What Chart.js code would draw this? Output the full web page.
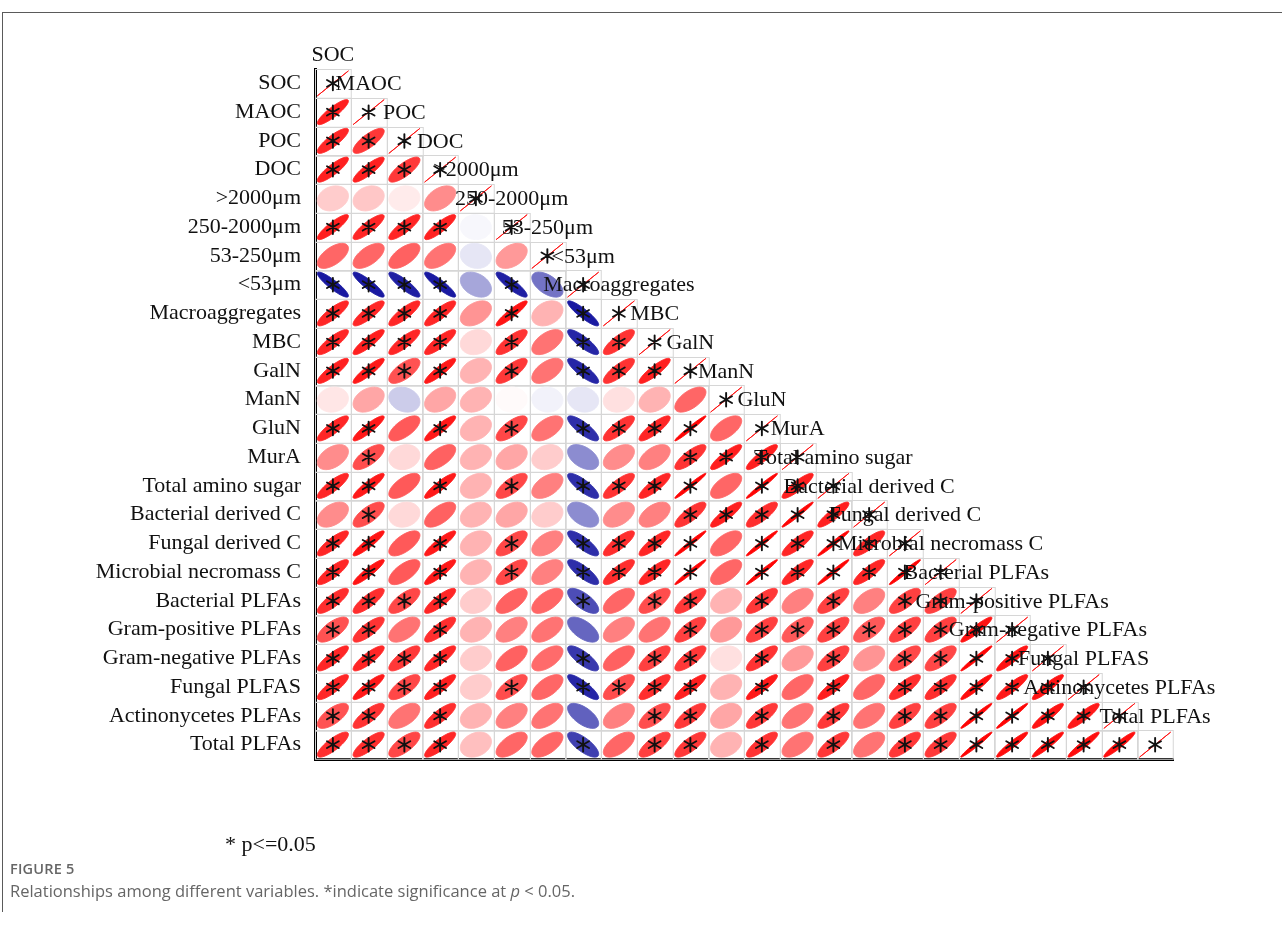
<!DOCTYPE html>
<html>
<head>
<meta charset="utf-8">
<title>Relationships among different variables</title>
<script src="https://cdn.jsdelivr.net/npm/chart.js@4.4.1/dist/chart.umd.min.js"></script>
<style>
  html, body { margin: 0; padding: 0; background: #fff; }
  #wrap { position: relative; width: 1282px; height: 943px; overflow: hidden; }
  #corr { position: absolute; left: 0; top: 0; }
  .frame-top { position: absolute; left: 2px; top: 12px; width: 1280px; border-top: 1.5px solid #5a5a5a; }
  .frame-left { position: absolute; left: 2px; top: 12px; height: 900px; border-left: 1.5px solid #5a5a5a; }
  .sig-note { position: absolute; left: 225px; top: 831px; font: 22px "Liberation Serif", serif; color: #111; white-space: nowrap; }
  .fig-no { position: absolute; left: 10px; top: 859px; font: 600 14.5px "Open Sans", sans-serif; color: #666; letter-spacing: 0.2px; }
  .fig-cap { position: absolute; left: 10px; top: 879px; font: 16.5px "Open Sans", sans-serif; color: #666; white-space: nowrap; }
</style>
</head>
<body>
<div id="wrap">
  <canvas id="corr" width="1282" height="943"></canvas>
  <div class="frame-top"></div>
  <div class="frame-left"></div>
  <div class="sig-note">* p&lt;=0.05</div>
  <div class="fig-no">FIGURE 5</div>
  <div class="fig-cap">Relationships among different variables. *indicate significance at <i>p</i> &lt; 0.05.</div>
</div>
<script>
// Variables, in matrix order (rows top to bottom, columns left to right)
const variables = [
  'SOC', 'MAOC', 'POC', 'DOC', '>2000\u03bcm', '250-2000\u03bcm', '53-250\u03bcm', '<53\u03bcm',
  'Macroaggregates', 'MBC', 'GalN', 'ManN', 'GluN', 'MurA', 'Total amino sugar',
  'Bacterial derived C', 'Fungal derived C', 'Microbial necromass C', 'Bacterial PLFAs',
  'Gram-positive PLFAs', 'Gram-negative PLFAs', 'Fungal PLFAS', 'Actinonycetes PLFAs', 'Total PLFAs'
];

// Lower triangle: correlation of each row variable with the variables before it
const rMAOC   = [0.88];
const rPOC    = [0.85, 0.78];
const rDOC    = [0.87, 0.87, 0.78];
const rGt2000 = [0.20, 0.22, 0.08, 0.45];
const r250    = [0.88, 0.85, 0.85, 0.87, -0.03];
const r53     = [0.60, 0.60, 0.62, 0.55, -0.10, 0.40];
const rLt53   = [-0.90, -0.90, -0.88, -0.90, -0.35, -0.88, -0.55];
const rMacro  = [0.85, 0.85, 0.85, 0.85, 0.42, 0.92, 0.30, -0.90];
const rMBC    = [0.85, 0.88, 0.85, 0.85, 0.15, 0.80, 0.55, -0.85, 0.80];
const rGalN   = [0.87, 0.90, 0.68, 0.90, 0.30, 0.78, 0.55, -0.85, 0.80, 0.88];
const rManN   = [0.10, 0.35, -0.20, 0.35, 0.30, 0.02, -0.05, -0.10, 0.12, 0.30, 0.60];
const rGluN   = [0.85, 0.90, 0.65, 0.90, 0.30, 0.72, 0.55, -0.82, 0.80, 0.85, 0.98, 0.60];
const rMurA   = [0.45, 0.70, 0.15, 0.62, 0.30, 0.35, 0.20, -0.45, 0.45, 0.50, 0.80, 0.88, 0.88];
const rTAS    = [0.85, 0.90, 0.65, 0.90, 0.30, 0.72, 0.50, -0.82, 0.80, 0.85, 0.98, 0.60, 0.98, 0.88];
const rBacC   = [0.45, 0.70, 0.15, 0.62, 0.30, 0.35, 0.20, -0.45, 0.45, 0.50, 0.80, 0.88, 0.82, 0.98, 0.88];
const rFunC   = [0.85, 0.92, 0.65, 0.90, 0.30, 0.72, 0.50, -0.82, 0.82, 0.85, 0.98, 0.60, 0.98, 0.85, 0.98, 0.85];
const rMNC    = [0.85, 0.92, 0.65, 0.90, 0.30, 0.72, 0.50, -0.82, 0.82, 0.85, 0.98, 0.60, 0.98, 0.85, 0.98, 0.85, 0.98];
const rBacP   = [0.82, 0.82, 0.72, 0.85, 0.20, 0.62, 0.60, -0.70, 0.60, 0.70, 0.78, 0.30, 0.78, 0.50, 0.75, 0.50, 0.75, 0.75];
const rGpos   = [0.68, 0.80, 0.55, 0.82, 0.30, 0.50, 0.55, -0.60, 0.50, 0.55, 0.75, 0.40, 0.75, 0.65, 0.75, 0.65, 0.75, 0.75, 0.93];
const rGneg   = [0.85, 0.85, 0.78, 0.85, 0.20, 0.62, 0.58, -0.78, 0.62, 0.75, 0.78, 0.12, 0.80, 0.40, 0.75, 0.42, 0.72, 0.72, 0.98, 0.92];
const rFunP   = [0.85, 0.90, 0.72, 0.88, 0.20, 0.70, 0.60, -0.85, 0.70, 0.82, 0.88, 0.30, 0.90, 0.60, 0.88, 0.60, 0.82, 0.82, 0.95, 0.90, 0.92];
const rActP   = [0.68, 0.80, 0.55, 0.82, 0.30, 0.50, 0.55, -0.62, 0.50, 0.70, 0.78, 0.35, 0.78, 0.55, 0.78, 0.55, 0.75, 0.75, 0.98, 0.98, 0.92, 0.90];
const rTotP   = [0.82, 0.82, 0.72, 0.85, 0.25, 0.60, 0.60, -0.75, 0.60, 0.75, 0.78, 0.30, 0.80, 0.55, 0.78, 0.55, 0.78, 0.78, 0.98, 0.95, 0.95, 0.95, 0.95];

// Significance flags (1 = p <= 0.05), same layout as above
const sMAOC   = [1];
const sPOC    = [1, 1];
const sDOC    = [1, 1, 1];
const sGt2000 = [0, 0, 0, 0];
const s250    = [1, 1, 1, 1, 0];
const s53     = [0, 0, 0, 0, 0, 0];
const sLt53   = [1, 1, 1, 1, 0, 1, 0];
const sMacro  = [1, 1, 1, 1, 0, 1, 0, 1];
const sMBC    = [1, 1, 1, 1, 0, 1, 0, 1, 1];
const sGalN   = [1, 1, 1, 1, 0, 1, 0, 1, 1, 1];
const sManN   = [0, 0, 0, 0, 0, 0, 0, 0, 0, 0, 0];
const sGluN   = [1, 1, 0, 1, 0, 1, 0, 1, 1, 1, 1, 0];
const sMurA   = [0, 1, 0, 0, 0, 0, 0, 0, 0, 0, 1, 1, 1];
const sTAS    = [1, 1, 0, 1, 0, 1, 0, 1, 1, 1, 1, 0, 1, 1];
const sBacC   = [0, 1, 0, 0, 0, 0, 0, 0, 0, 0, 1, 1, 1, 1, 1];
const sFunC   = [1, 1, 0, 1, 0, 1, 0, 1, 1, 1, 1, 0, 1, 1, 1, 1];
const sMNC    = [1, 1, 0, 1, 0, 1, 0, 1, 1, 1, 1, 0, 1, 1, 1, 1, 1];
const sBacP   = [1, 1, 1, 1, 0, 0, 0, 1, 0, 1, 1, 0, 1, 0, 1, 0, 1, 1];
const sGpos   = [1, 1, 0, 1, 0, 0, 0, 0, 0, 0, 1, 0, 1, 1, 1, 1, 1, 1, 1];
const sGneg   = [1, 1, 1, 1, 0, 0, 0, 1, 0, 1, 1, 0, 1, 0, 1, 0, 1, 1, 1, 1];
const sFunP   = [1, 1, 1, 1, 0, 1, 0, 1, 1, 1, 1, 0, 1, 0, 1, 0, 1, 1, 1, 1, 1];
const sActP   = [1, 1, 0, 1, 0, 0, 0, 0, 0, 1, 1, 0, 1, 0, 1, 0, 1, 1, 1, 1, 1, 1];
const sTotP   = [1, 1, 1, 1, 0, 0, 0, 1, 0, 1, 1, 0, 1, 0, 1, 0, 1, 1, 1, 1, 1, 1, 1];

const corrRows = [[], rMAOC, rPOC, rDOC, rGt2000, r250, r53, rLt53, rMacro, rMBC, rGalN, rManN,
  rGluN, rMurA, rTAS, rBacC, rFunC, rMNC, rBacP, rGpos, rGneg, rFunP, rActP, rTotP];
const sigRows = [[], sMAOC, sPOC, sDOC, sGt2000, s250, s53, sLt53, sMacro, sMBC, sGalN, sManN,
  sGluN, sMurA, sTAS, sBacC, sFunC, sMNC, sBacP, sGpos, sGneg, sFunP, sActP, sTotP];

// One point per lower-triangle cell; the diagonal is r = 1
const cells = [];
variables.forEach((_, i) => {
  corrRows[i].forEach((r, j) => cells.push({ x: j, y: i, r: r, sig: sigRows[i][j] }));
  cells.push({ x: i, y: i, r: 1, sig: 1 });
});

// Blue (-1) -> white (0) -> red (+1)
function corrColor(r) {
  const t = Math.min(1, Math.abs(r));
  const v = Math.round(255 * (1 - t));
  if (r >= 0) return `rgb(255,${v},${v})`;
  const b = Math.round(255 * (1 - t) + 150 * t);
  return `rgb(${v},${v},${b})`;
}

const SERIF = '"Liberation Serif", "Times New Roman", serif';

const ellipsePlugin = {
  id: 'corrEllipses',
  afterDatasetsDraw(chart) {
    const { ctx, scales: { x, y } } = chart;
    const meta = chart.getDatasetMeta(0);
    const data = chart.data.datasets[0].data;
    const W = Math.abs(x.getPixelForValue(1) - x.getPixelForValue(0));
    const H = Math.abs(y.getPixelForValue(1) - y.getPixelForValue(0));
    ctx.save();

    // cell outlines
    ctx.strokeStyle = '#d6d6d6';
    ctx.lineWidth = 1;
    meta.data.forEach((pt) => {
      ctx.strokeRect(Math.round(pt.x - W / 2) + 0.5, Math.round(pt.y - H / 2) + 0.5, W, H);
    });

    // ellipses: contour of a bivariate normal with correlation r
    const N = 98;
    meta.data.forEach((pt, k) => {
      const r = data[k].r;
      const d = Math.acos(Math.max(-1, Math.min(1, r)));
      ctx.beginPath();
      for (let s = 0; s <= N; s++) {
        const a = (s / N) * Math.PI * 2;
        const ex = Math.cos(a + d / 2) / 2 * 0.87 * W;
        const ey = Math.cos(a - d / 2) / 2 * 0.87 * H;
        if (s === 0) ctx.moveTo(pt.x + ex, pt.y - ey); else ctx.lineTo(pt.x + ex, pt.y - ey);
      }
      ctx.closePath();
      const c = corrColor(r);
      ctx.fillStyle = c;
      ctx.strokeStyle = c;
      ctx.lineWidth = 1;
      ctx.fill();
      ctx.stroke();
    });

    // column labels sit just above each column's first cell
    ctx.fillStyle = '#111';
    ctx.font = '22px ' + SERIF;
    ctx.textAlign = 'center';
    ctx.textBaseline = 'middle';
    variables.forEach((name, j) => {
      ctx.fillText(name, x.getPixelForValue(j), y.getPixelForValue(j - 1) + 1);
    });

    // significance asterisks
    ctx.strokeStyle = '#111';
    ctx.lineWidth = 1.9;
    ctx.lineCap = 'round';
    const R = 6.8;
    meta.data.forEach((pt, k) => {
      if (!data[k].sig) return;
      ctx.beginPath();
      for (let m = 0; m < 3; m++) {
        const ang = Math.PI / 2 + m * Math.PI / 3;
        ctx.moveTo(pt.x + Math.cos(ang) * R, pt.y - Math.sin(ang) * R);
        ctx.lineTo(pt.x - Math.cos(ang) * R, pt.y + Math.sin(ang) * R);
      }
      ctx.stroke();
    });
    ctx.restore();
  }
};

new Chart(document.getElementById('corr'), {
  type: 'scatter',
  data: {
    datasets: [{
      data: cells,
      pointRadius: 0,
      pointHoverRadius: 0
    }]
  },
  options: {
    responsive: false,
    animation: false,
    devicePixelRatio: 1,
    layout: { padding: { left: 0, right: 109, top: 69, bottom: 184 } },
    plugins: { legend: { display: false }, tooltip: { enabled: false } },
    events: [],
    scales: {
      x: {
        type: 'linear',
        min: -0.5,
        max: 23.5,
        grid: { display: false, drawTicks: false },
        ticks: { display: false },
        border: { display: true, color: '#000', width: 3 },
        afterFit: (s) => { s.height = 0; }
      },
      y: {
        type: 'linear',
        reverse: true,
        min: -0.5,
        max: 23.5,
        grid: { display: false, drawTicks: false },
        border: { display: true, color: '#000', width: 3 },
        afterBuildTicks: (s) => { s.ticks = variables.map((_, i) => ({ value: i })); },
        afterFit: (s) => { s.width = 315; },
        ticks: {
          autoSkip: false,
          padding: 14,
          color: '#111',
          font: { family: SERIF, size: 22 },
          callback: (v) => variables[v]
        }
      }
    }
  },
  plugins: [ellipsePlugin]
});
</script>
</body>
</html>
